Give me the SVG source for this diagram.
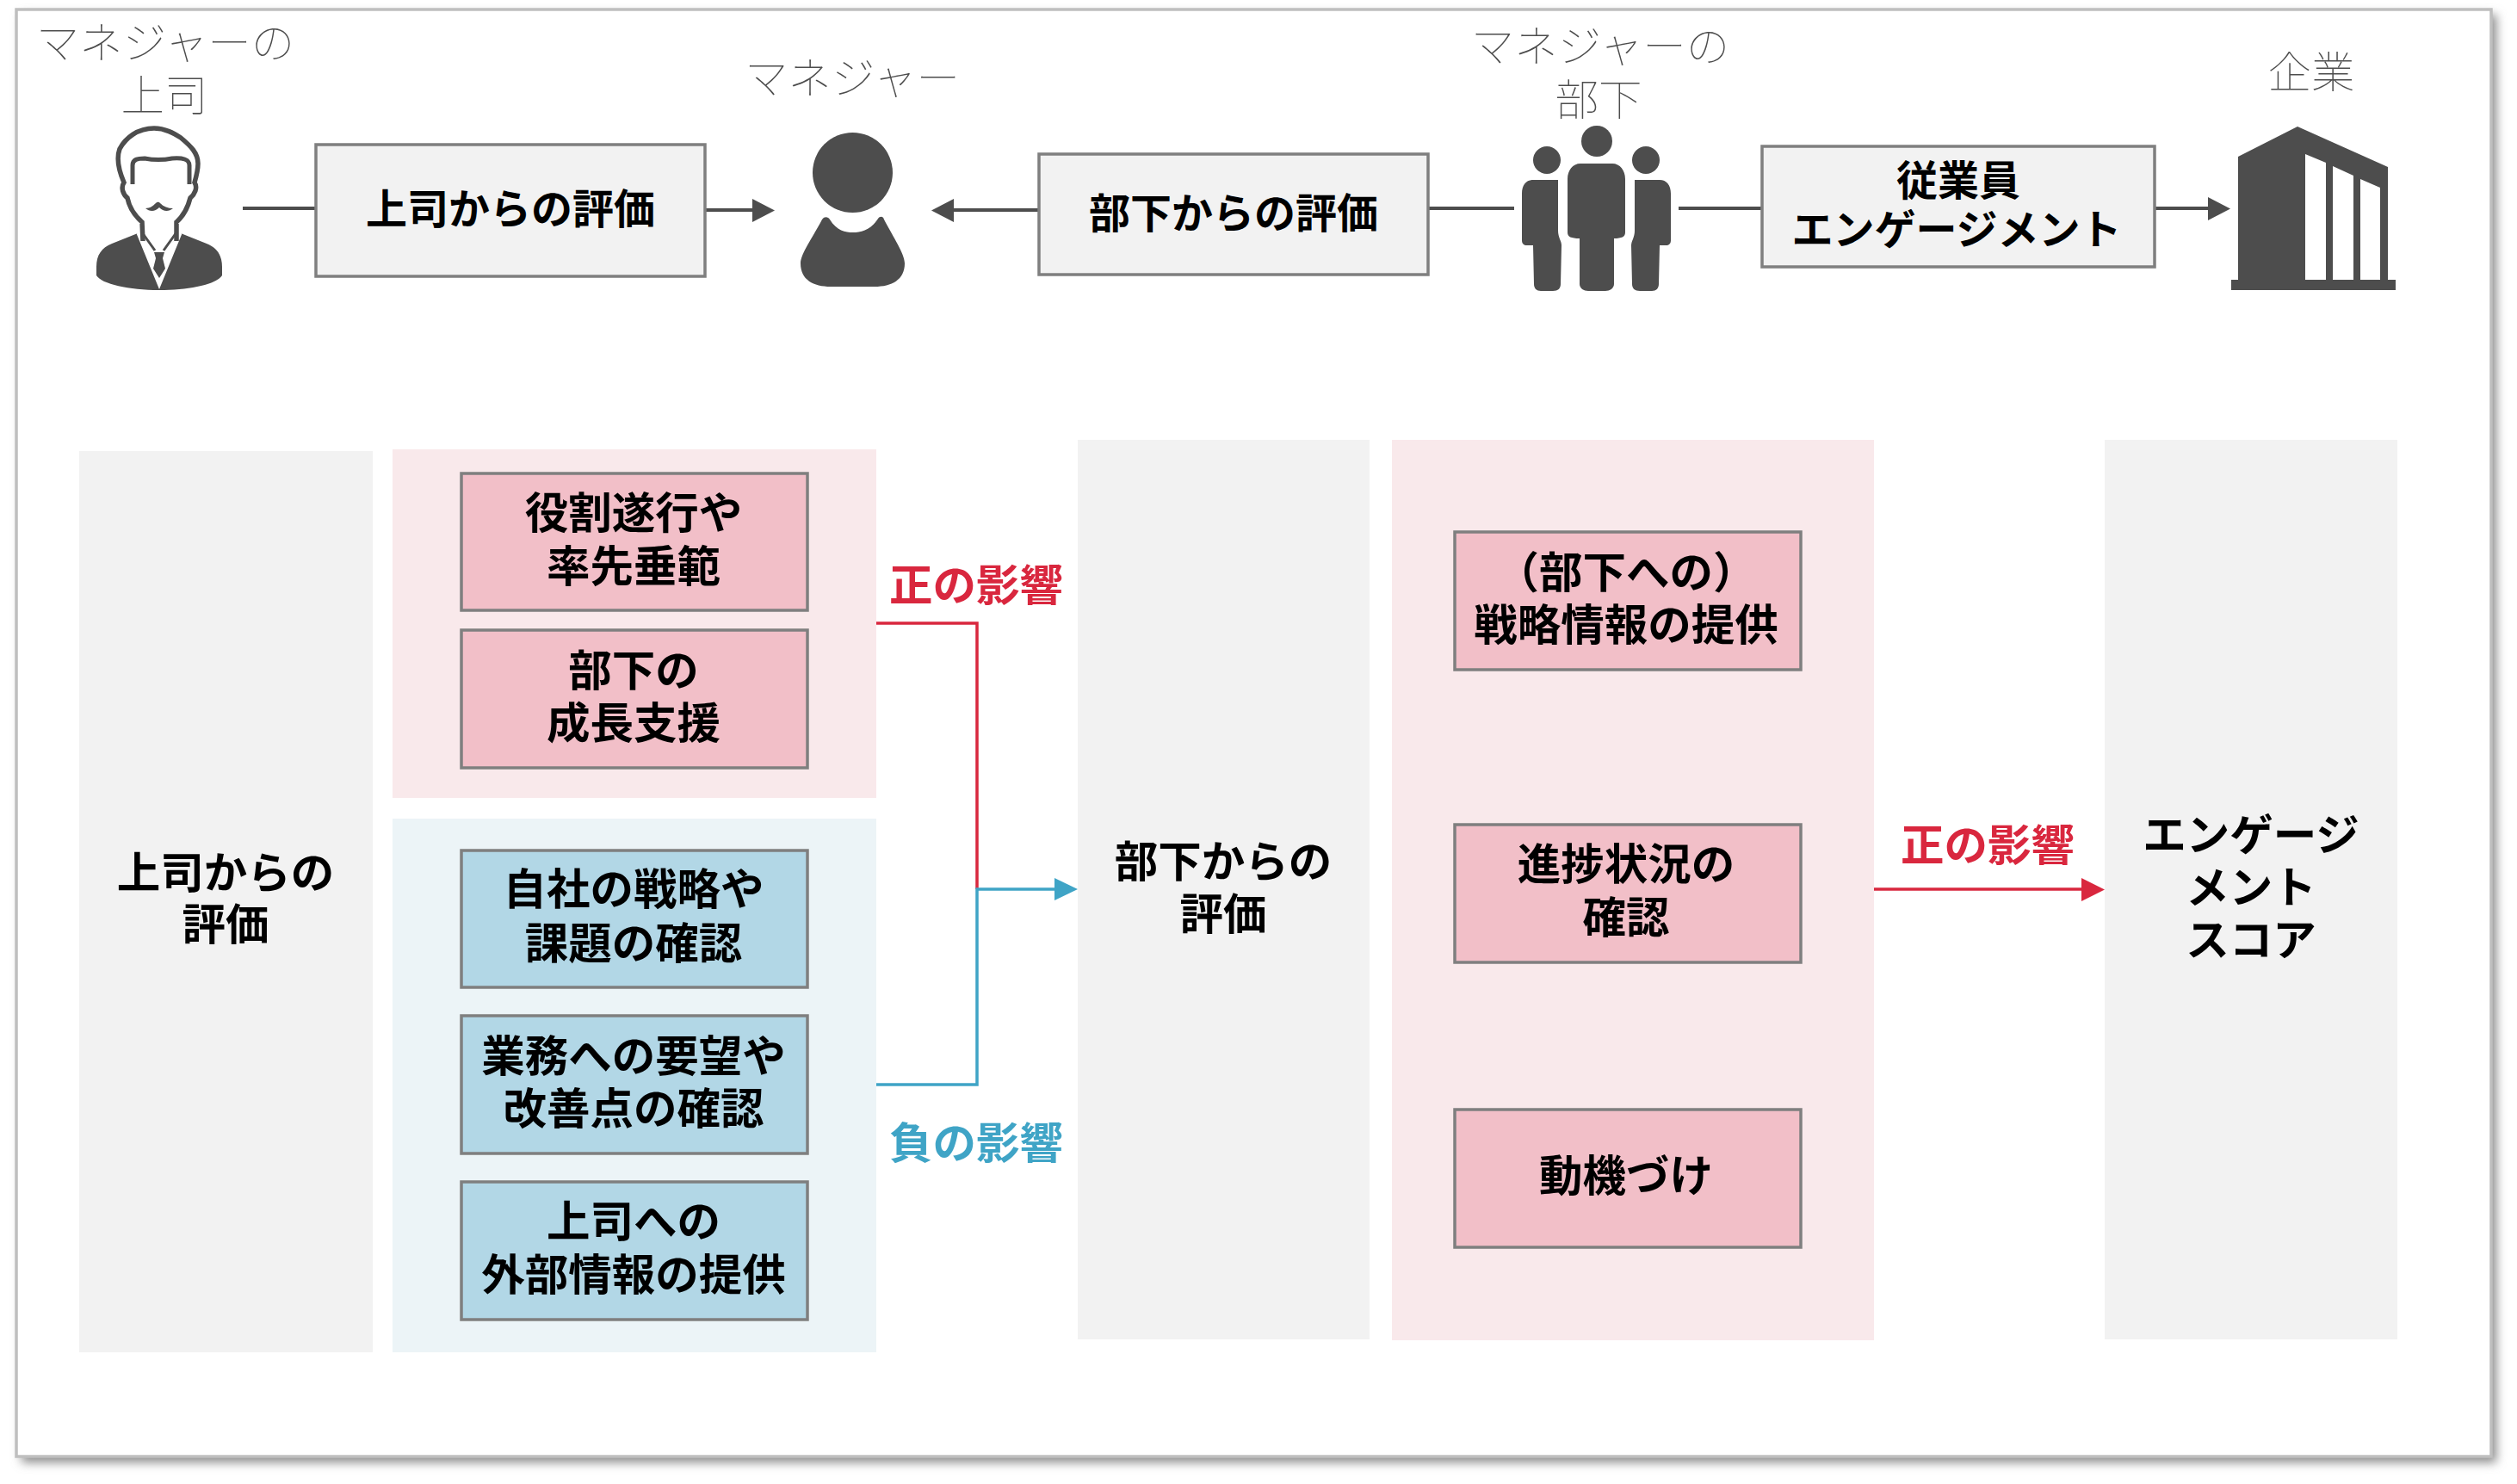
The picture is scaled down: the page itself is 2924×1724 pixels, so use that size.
<svg xmlns="http://www.w3.org/2000/svg" width="2924" height="1724" viewBox="0 0 2924 1724">
  <style>
    text { font-family: "Noto Sans CJK JP", "Noto Sans", sans-serif; text-anchor: middle; font-size: 50.5px; }
    .head { font-weight: 100; fill: #4d4d4d; }
    .t { font-weight: 700; fill: #000; }
    .s { font-size: 48px; }
    .pos { font-weight: 700; fill: #d9273e; }
    .neg { font-weight: 700; fill: #3fa4c6; }
    .col { fill: #f2f2f2; }
    .grey { fill: #f2f2f2; stroke: #7f7f7f; stroke-width: 3.5; }
    .pink { fill: #f2bfc8; stroke: #7f7f7f; stroke-width: 3.5; }
    .blue { fill: #b2d7e6; stroke: #7f7f7f; stroke-width: 3.5; }
    .icon { fill: #4d4d4d; }
    .dark { stroke: #4d4d4d; stroke-width: 4; fill: none; }
    .red { stroke: #d9273e; stroke-width: 3.5; fill: none; }
    .cyan { stroke: #3fa4c6; stroke-width: 3.5; fill: none; }
  </style>
  <defs>
    <filter id="soft" x="-5%" y="-5%" width="110%" height="110%"><feGaussianBlur stdDeviation="6"/></filter>
  </defs>

  <rect width="2924" height="1724" fill="#fff"/>
  <g id="frame">
    <rect x="25" y="17" width="2875" height="1682" fill="#8c8c8c" filter="url(#soft)"/>
    <rect x="19" y="11" width="2875" height="1681" fill="#fff" stroke="#bfbfbf" stroke-width="3.5"/>
  </g>

  <g id="boss">
    <path class="icon" d="M112 310C112 296 118 288 130 283L160 271L185 300L210 271L240 283C252 288 258 296 258 310V320C252 330 220 337 185 337C150 337 118 330 112 320Z"/>
    <path d="M160 271L185 332L210 271L204 280L190 294H180L166 280Z" fill="#fff" stroke="#fff" stroke-width="3"/>
    <path class="icon" d="M179 293H191L189 300L192 312L185 323L178 312L181 300Z"/>
    <path d="M166 280L165 258C156 250 150 240 148 230C143 226 140 218 144 212C138 198 135 184 139 173C146 160 160 149 179 149C192 149 202 155 210 160C222 170 230 178 230 190C230 198 228 205 226 212C230 218 226 226 221 230C218 242 214 250 205 258L205 280" fill="#fff" stroke="#4d4d4d" stroke-width="5.5"/>
    <path d="M154 214V192C154 185 160 184 168 184C178 186 190 186 200 184C212 183 220 185 220 192V214" fill="none" stroke="#4d4d4d" stroke-width="5"/>
    <path class="icon" d="M169 242C174 242 178 239 181 236C183 234 185 235 186 236C190 240 195 242 201 242C196 246 190 246 185 241C180 246 174 246 169 242Z"/>
    <path d="M165 270L180 291M205 270L190 291" stroke="#4d4d4d" stroke-width="3" fill="none"/>
  </g>

  <g id="manager">
    <ellipse class="icon" cx="990.500" cy="200.500" rx="46.500" ry="46.500"/>
    <path class="icon" d="M955 255C958 251 962 252 964 255C972 268 982 270 991 270C1000 270 1012 267 1020 254C1022 251 1026 251 1027 255C1038 276 1051 295 1051 306C1051 325 1036 333 1016 333H965C945 333 930 325 930 306C930 295 944 276 955 255Z"/>
  </g>

  <g id="team">
    <ellipse class="icon" cx="1855" cy="164" rx="18" ry="18"/>
    <ellipse class="icon" cx="1797" cy="186" rx="16" ry="16"/>
    <ellipse class="icon" cx="1912" cy="186" rx="16" ry="16"/>
    <path class="icon" d="M1836 190H1873C1882 190 1888 198 1888 208V270C1888 275 1884 277 1875 277V330C1875 335 1870 338 1865 338H1845C1840 338 1835 335 1835 330V277C1825 277 1821 275 1821 270V208C1821 198 1827 190 1836 190Z"/>
    <path class="icon" d="M1781 209H1810V268C1810 276 1814 280 1814 285L1813 330C1813 335 1810 338 1804 338H1790C1785 338 1782 335 1782 330L1781 285H1774C1770 285 1768 283 1768 279V225C1768 215 1773 209 1781 209Z"/>
    <path class="icon" d="M1928 209H1899V268C1899 276 1895 280 1895 285L1896 330C1896 335 1899 338 1905 338H1919C1924 338 1927 335 1927 330L1928 285H1935C1939 285 1941 283 1941 279V225C1941 215 1936 209 1928 209Z"/>
  </g>

  <g id="company">
    <path class="icon" d="M2600 325V182L2669 147L2774 194V325H2783V337H2592V325ZM2678 179V325H2702V189ZM2710 193V325H2734V204ZM2742 208V325H2765V218Z" fill-rule="evenodd"/>
  </g>

  <g id="connectors">
    <path class="dark" d="M282 242H367"/>
    <path class="dark" d="M819 244H876"/>
    <path class="icon" d="M874 231V258L900 244.500Z"/>
    <path class="dark" d="M1207 244H1106"/>
    <path class="icon" d="M1108 231V258L1082 244.500Z"/>
    <path class="dark" d="M1659 242H1759"/>
    <path class="dark" d="M1950 242H2047"/>
    <path class="dark" d="M2503 242H2567"/>
    <path class="icon" d="M2565 229V256L2591 242.500Z"/>
    <path class="red" d="M1018 724H1135V1033"/>
    <path class="cyan" d="M1018 1260H1135V1033H1228"/>
    <path d="M1225 1020V1046L1252 1033Z" fill="#3fa4c6"/>
    <path class="red" d="M2177 1033H2420"/>
    <path d="M2418 1020V1047L2445 1033.500Z" fill="#d9273e"/>
  </g>

  <g id="label-boss"><text class="head" x="192" y="68">マネジャーの</text><text class="head" x="191" y="129">上司</text></g>
  <g id="label-manager"><text class="head" x="990" y="109">マネジャー</text></g>
  <g id="label-team"><text class="head" x="1859" y="72">マネジャーの</text><text class="head" x="1857" y="134">部下</text></g>
  <g id="label-company"><text class="head" x="2685" y="102">企業</text></g>

  <g id="eval-boss"><rect class="grey" x="367" y="168" width="452" height="153"/><text class="t s" x="593" y="260">上司からの評価</text></g>
  <g id="eval-team"><rect class="grey" x="1207" y="179" width="452" height="140"/><text class="t s" x="1433" y="265">部下からの評価</text></g>
  <g id="engagement"><rect class="grey" x="2047" y="170" width="456" height="140"/><text class="t s" x="2275" y="227">従業員</text><text class="t s" x="2273" y="284">エンゲージメント</text></g>

  <g id="col-boss"><rect class="col" x="92" y="524" width="341" height="1047"/><text class="t" x="262" y="1032">上司からの</text><text class="t" x="262" y="1092">評価</text></g>
  <rect id="panel-positive" x="456" y="522" width="562" height="405" fill="#f9e9eb"/>
  <rect id="panel-negative" x="456" y="951" width="562" height="620" fill="#ecf4f7"/>
  <g id="role"><rect class="pink" x="536" y="550" width="402" height="159"/><text class="t" x="736" y="614">役割遂行や</text><text class="t" x="736" y="676">率先垂範</text></g>
  <g id="growth"><rect class="pink" x="536" y="732" width="402" height="160"/><text class="t" x="736" y="797">部下の</text><text class="t" x="736" y="858">成長支援</text></g>
  <g id="strategy"><rect class="blue" x="536" y="988" width="402" height="159"/><text class="t" x="736" y="1051">自社の戦略や</text><text class="t" x="736" y="1114">課題の確認</text></g>
  <g id="requests"><rect class="blue" x="536" y="1180" width="402" height="160"/><text class="t" x="736" y="1245">業務への要望や</text><text class="t" x="736" y="1306">改善点の確認</text></g>
  <g id="external"><rect class="blue" x="536" y="1373" width="402" height="160"/><text class="t" x="736" y="1437">上司への</text><text class="t" x="736" y="1499">外部情報の提供</text></g>

  <text class="pos" x="1134" y="698">正の影響</text>
  <text class="neg" x="1134" y="1346">負の影響</text>

  <g id="col-team"><rect class="col" x="1252" y="511" width="339" height="1045"/><text class="t" x="1421" y="1019">部下からの</text><text class="t" x="1421" y="1080">評価</text></g>
  <rect id="panel-right" x="1617" y="511" width="560" height="1046" fill="#f9e9eb"/>
  <g id="briefing"><rect class="pink" x="1690" y="618" width="402" height="160"/><text class="t" x="1889" y="683">（部下への）</text><text class="t" x="1889" y="744">戦略情報の提供</text></g>
  <g id="progress"><rect class="pink" x="1690" y="958" width="402" height="160"/><text class="t" x="1889" y="1022">進捗状況の</text><text class="t" x="1889" y="1084">確認</text></g>
  <g id="motivation"><rect class="pink" x="1690" y="1289" width="402" height="160"/><text class="t" x="1889" y="1384">動機づけ</text></g>

  <text class="pos" x="2309" y="1000">正の影響</text>

  <g id="col-score"><rect class="col" x="2445" y="511" width="340" height="1045"/><text class="t" x="2615" y="988">エンゲージ</text><text class="t" x="2615" y="1049">メント</text><text class="t" x="2615" y="1110">スコア</text></g>
</svg>
